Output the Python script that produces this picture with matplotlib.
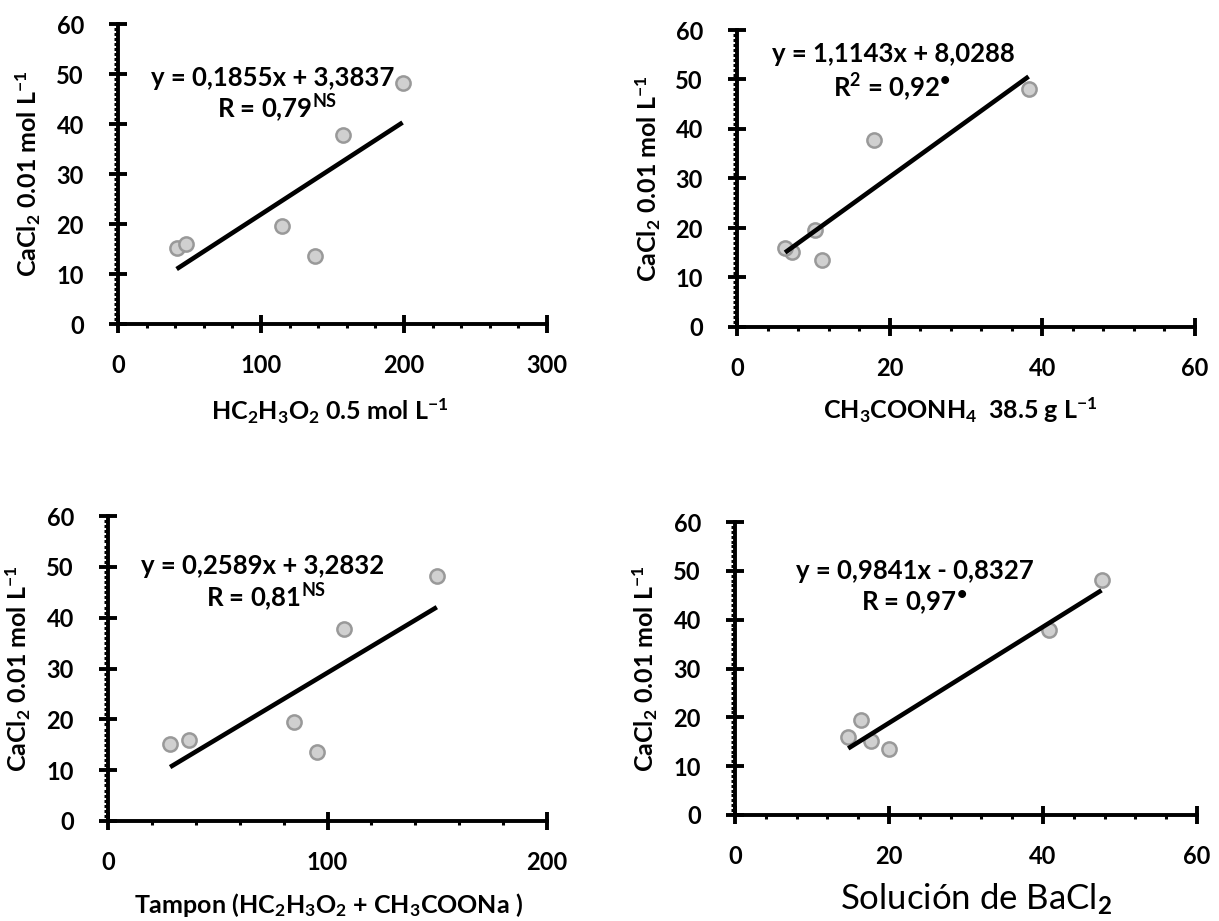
import matplotlib
matplotlib.use("Agg")
import matplotlib.pyplot as plt
from matplotlib.ticker import MultipleLocator
import numpy as np

plt.rcParams['font.family'] = ['Lato', 'DejaVu Sans']
plt.rcParams['font.weight'] = 'bold'
plt.rcParams['mathtext.fontset'] = 'custom'
plt.rcParams['mathtext.rm'] = 'Lato:bold'
plt.rcParams['mathtext.it'] = 'Lato:bold'
plt.rcParams['mathtext.bf'] = 'Lato:bold'

# CaCl2 0.01 mol L-1 (common y for every panel)
cacl2 = [15.2, 16.0, 19.5, 13.5, 37.8, 48.1]

# Extractants
hc2h3o2 = [41, 47.5, 115, 138, 157.6, 199]
ch3coonh4 = [7.2, 6.3, 10.2, 11.2, 17.9, 38.2]
tampon = [28.3, 36.7, 84.8, 95.3, 107.3, 149.8]
bacl2 = [17.6, 14.7, 16.4, 20.0, 40.8, 47.6]

# Fitted coefficients (slope, intercept)
fits = [(0.1855, 3.3837), (1.1143, 8.0288), (0.2589, 3.2832), (0.9841, -0.8327)]
eq_text = ["y = 0,1855x + 3,3837", "y = 1,1143x + 8,0288",
           "y = 0,2589x + 3,2832", "y = 0,9841x - 0,8327"]
r_text = [r"R = 0,79$^{\mathrm{NS}}$", r"R$^{2}$ = 0,92$^{\mathrm{•}}$",
          r"R = 0,81$^{\mathrm{NS}}$", r"R = 0,97$^{\mathrm{•}}$"]
xlabels = [r"HC$_2$H$_3$O$_2$ 0.5 mol L$^{-1}$",
           r"CH$_3$COONH$_4$  38.5 g L$^{-1}$",
           r"Tampon (HC$_2$H$_3$O$_2$ + CH$_3$COONa )",
           r"Solución de BaCl$_2$"]
ylabel = r"CaCl$_2$ 0.01 mol L$^{-1}$"
xmax = [300, 60, 200, 60]
xmajor = [100, 20, 100, 20]
xminor = [20, 4, 20, 4]

W, H = 1219, 921
fig = plt.figure(figsize=(W / 100, H / 100), dpi=100)

# axes boxes in pixels: left, right, top, bottom
boxes = [(118, 547, 24, 324), (737, 1195, 30, 327),
         (108, 547, 516, 821), (735, 1197, 522, 815)]

xs_all = [hc2h3o2, ch3coonh4, tampon, bacl2]
eq_pos = [(108, 49.2, 111, 43.0), (20.5, 55.2, 20.3, 48.4),
          (70.5, 50.1, 72, 43.8), (23.3, 50.0, 23.2, 43.3)]
ylab_x = [28, 648, 18, 645]
xlab_xy = [(330, 411), (960, 410), (328, 905), (976, 899)]

for i in range(4):
    l, r, t, b = boxes[i]
    ax = fig.add_axes([l / W, 1 - b / H, (r - l) / W, (b - t) / H])
    x = np.array(xs_all[i])
    ax.scatter(x, cacl2, s=105, facecolor='#d0d0d0', edgecolor='#999999',
               linewidth=1.8, zorder=3, clip_on=False)
    m, c = fits[i]
    xf = np.array([x.min(), x.max()])
    ax.plot(xf, m * xf + c, color='black', lw=3.3, zorder=4,
            solid_capstyle='butt')
    ax.set_xlim(0, xmax[i])
    ax.set_ylim(0, 60)
    for s in ['top', 'right']:
        ax.spines[s].set_visible(False)
    for s in ['left', 'bottom']:
        ax.spines[s].set_linewidth(2.8)
    ax.xaxis.set_major_locator(MultipleLocator(xmajor[i]))
    ax.xaxis.set_minor_locator(MultipleLocator(xminor[i]))
    ax.yaxis.set_major_locator(MultipleLocator(10))
    ax.yaxis.set_minor_locator(MultipleLocator(1))
    ax.tick_params(which='major', direction='inout', length=13, width=2.8,
                   labelsize=17)
    ax.tick_params(which='minor', direction='out', length=3, width=2.2)
    ax.tick_params(axis='x', which='major', pad=15)
    ax.tick_params(axis='y', which='major', pad=18)
    for lab in ax.get_xticklabels() + ax.get_yticklabels():
        lab.set_fontweight('bold')
    ex, ey, rx, ry = eq_pos[i]
    ax.text(ex, ey, eq_text[i], ha='center', va='center', fontsize=18.5,
            fontweight='bold')
    ax.text(rx, ry, r_text[i], ha='center', va='center', fontsize=18.5,
            fontweight='bold')
    fig.text(ylab_x[i] / W, 1 - ((t + b) / 2) / H, ylabel, rotation=90,
             ha='center', va='center', fontsize=18, fontweight='bold')
    lx, ly = xlab_xy[i]
    if i == 3:
        fig.text(lx / W, 1 - ly / H, xlabels[i],
                 ha='center', va='center', fontsize=25, fontweight='normal')
    else:
        fig.text(lx / W, 1 - ly / H, xlabels[i],
                 ha='center', va='center', fontsize=18, fontweight='bold')

fig.savefig("out.png", dpi=100, facecolor='white')
